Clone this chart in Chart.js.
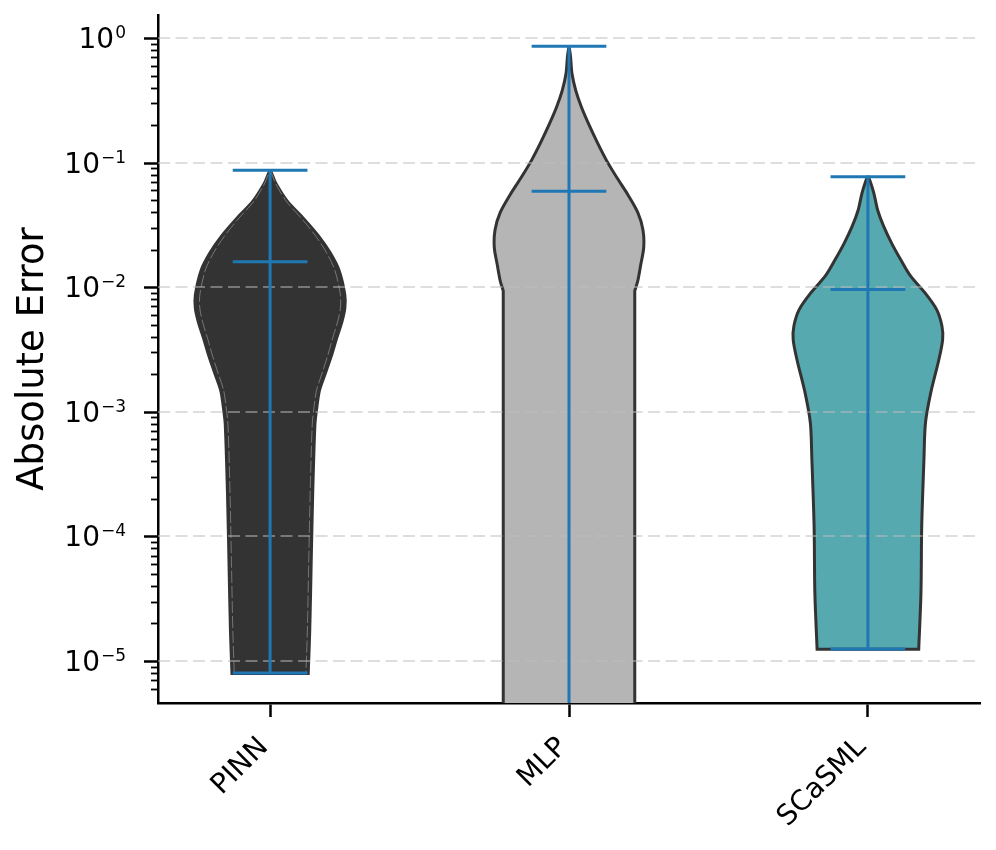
<!DOCTYPE html>
<html>
<head>
<meta charset="utf-8">
<script src="https://cdn.jsdelivr.net/npm/chart.js@4.4.1/dist/chart.umd.min.js"></script>
<style>
  body { margin: 0; background: #fff; }
  #wrap { width: 996px; height: 850px; }
</style>
</head>
<body>
<div id="wrap"><canvas id="violinChart"></canvas></div>
<script>
// categories and summary values
var models = ["PINN", "MLP", "SCaSML"];
var errMin = [8.0e-6, 1.0e-6, 1.25e-5];
var errMedian = [0.0160, 0.059, 0.0096];
var errMax = [0.087, 0.86, 0.077];

// violin outlines: log10(error) levels and relative density (1 = widest)
var pinnLog  = [-1.06, -1.10, -1.17, -1.31, -1.45, -1.59, -1.72, -1.86, -2.06, -2.17, -2.28, -2.41, -2.55, -2.69, -2.83, -2.99, -3.10, -3.66, -4.21, -4.77, -5.10];
var pinnDens = [0.0, 0.03, 0.08, 0.23, 0.45, 0.65, 0.80, 0.92, 1.0, 1.0, 0.96, 0.89, 0.82, 0.74, 0.66, 0.62, 0.60, 0.57, 0.55, 0.53, 0.51];

var mlpLog  = [-0.065, -0.146, -0.285, -0.42, -0.56, -0.70, -0.84, -0.98, -1.12, -1.26, -1.40, -1.54, -1.68, -1.82, -1.95, -2.03, -3.0, -4.0, -5.0, -6.0];
var mlpDens = [0.0, 0.02, 0.04, 0.09, 0.17, 0.27, 0.38, 0.50, 0.64, 0.79, 0.92, 0.99, 1.0, 0.96, 0.92, 0.88, 0.88, 0.88, 0.88, 0.88];

var scLog  = [-1.107, -1.15, -1.246, -1.38, -1.51, -1.65, -1.78, -1.91, -2.05, -2.18, -2.31, -2.42, -2.58, -2.85, -3.09, -3.38, -3.92, -4.45, -4.905];
var scDens = [0.0, 0.03, 0.08, 0.13, 0.21, 0.32, 0.44, 0.57, 0.77, 0.92, 0.99, 1.0, 0.95, 0.84, 0.77, 0.75, 0.72, 0.71, 0.68];

var violinLogs = [pinnLog, mlpLog, scLog];
var violinDens = [pinnDens, mlpDens, scDens];
var sharpCorners = [[20], [15, 19], [18]];   // outline points that are corners, not curves
var fillColors = ["#333333", "#b5b5b5", "#57a9b0"];

var halfWidth = 0.25;   // max half width of a violin in x units
var capHalf = 0.125;    // half width of the blue caps

function outline(c, logs, dens, k, sharp) {
    var right = [], left = [];
    logs.forEach(function (l, i) {
        var y = Math.pow(10, l), w = dens[i] * halfWidth * k;
        var n = sharp.indexOf(i) >= 0 ? 2 : 1;
        for (var j = 0; j < n; j++) {
            right.push({ x: c + w, y: y });
            left.push({ x: c - w, y: y });
        }
    });
    return right.concat(left.reverse());
}

function whiskers(c, lo, med, hi) {
    return [
        { x: c, y: lo }, { x: c, y: hi }, { x: c, y: null },
        { x: c - capHalf, y: hi }, { x: c + capHalf, y: hi }, { x: c, y: null },
        { x: c - capHalf, y: lo }, { x: c + capHalf, y: lo }, { x: c, y: null },
        { x: c - capHalf, y: med }, { x: c + capHalf, y: med }
    ];
}

var datasets = [];
models.forEach(function (m, i) {
    datasets.push({
        label: m,
        data: outline(i, violinLogs[i], violinDens[i], 1, sharpCorners[i]),
        fill: "shape",
        backgroundColor: fillColors[i],
        borderColor: "#333333",
        borderWidth: 3,
        pointRadius: 0,
        tension: 0.3,
        order: 2
    });
});
// faint inner edge seen on the PINN body
datasets.push({
    label: "PINN edge",
    data: outline(0, pinnLog, pinnDens, 0.94, sharpCorners[0]),
    fill: false,
    borderColor: "rgba(255,255,255,0.33)",
    borderWidth: 1,
    borderDash: [12, 3],
    pointRadius: 0,
    tension: 0.3,
    order: 1
});
models.forEach(function (m, i) {
    datasets.push({
        label: m + " stats",
        data: whiskers(i, errMin[i], errMedian[i], errMax[i]),
        borderColor: "#1f77b4",
        borderWidth: 3,
        pointRadius: 0,
        tension: 0,
        spanGaps: false,
        order: 0
    });
});

function isDecade(v) {
    var l = Math.log10(v);
    return Math.abs(l - Math.round(l)) < 1e-9;
}

function drawGrid(chart) {
    var ctx = chart.ctx, y = chart.scales.y, area = chart.chartArea;
    ctx.save();
    ctx.strokeStyle = "rgba(190,190,190,0.5)";
    ctx.lineWidth = 2;
    ctx.setLineDash([12, 5.5]);
    y.ticks.forEach(function (t) {
        if (!isDecade(t.value)) return;
        var py = Math.round(y.getPixelForValue(t.value));
        ctx.beginPath();
        ctx.moveTo(area.left, py);
        ctx.lineTo(area.right, py);
        ctx.stroke();
    });
    ctx.restore();
}

// y axis tick marks (long majors, short minors) and 10^n labels with a real superscript
function drawYAxis(chart) {
    var ctx = chart.ctx, y = chart.scales.y, x0 = chart.chartArea.left;
    var xr = x0 - 32;
    ctx.save();
    ctx.strokeStyle = "#000";
    ctx.fillStyle = "#000";
    y.ticks.forEach(function (t) {
        var v = t.value;
        var e = Math.floor(Math.log10(v) + 1e-9);
        var s = v / Math.pow(10, e);
        if (Math.abs(s - Math.round(s)) > 1e-6) return;
        var major = Math.round(s) === 1;
        var py = y.getPixelForValue(v);
        ctx.lineWidth = major ? 2.5 : 1.8;
        ctx.beginPath();
        ctx.moveTo(x0 - (major ? 14 : 7), Math.round(py) + 0.5);
        ctx.lineTo(x0, Math.round(py) + 0.5);
        ctx.stroke();
        if (!major) return;
        var expText = String(e).replace("-", "\u2212");
        ctx.textAlign = "right";
        ctx.textBaseline = "alphabetic";
        ctx.font = "17px 'DejaVu Sans'";
        var ew = ctx.measureText(expText).width;
        ctx.fillText(expText, xr, py);
        ctx.font = "28px 'DejaVu Sans'";
        ctx.fillText("10", xr - ew - 1, py + 10);
    });
    ctx.restore();
}

var decorPlugin = {
    id: "logDecor",
    beforeDatasetsDraw: function (chart) { chart.$gridDone = false; },
    beforeDatasetDraw: function (chart, args) {
        if (!chart.$gridDone && chart.data.datasets[args.index].order === 0) {
            drawGrid(chart);
            chart.$gridDone = true;
        }
    },
    afterDatasetsDraw: function (chart) {
        if (!chart.$gridDone) { drawGrid(chart); chart.$gridDone = true; }
        drawYAxis(chart);
    }
};

Chart.defaults.font.family = "'DejaVu Sans', sans-serif";
Chart.defaults.color = "#000";

new Chart("violinChart", {
    type: "line",
    data: { datasets: datasets },
    plugins: [decorPlugin],
    options: {
        responsive: true,
        maintainAspectRatio: false,
        animation: false,
        layout: { padding: { left: 7, right: 16, top: 15, bottom: 0 } },
        plugins: {
            legend: { display: false },
            tooltip: { enabled: false }
        },
        scales: {
            x: {
                type: "linear",
                min: -0.375,
                max: 2.375,
                afterBuildTicks: function (scale) {
                    scale.ticks = models.map(function (m, i) { return { value: i }; });
                },
                afterFit: function (scale) {
                    scale.height = 147;
                    scale.paddingLeft = 0;
                    scale.paddingRight = 0;
                },
                ticks: {
                    autoSkip: false,
                    minRotation: 45,
                    maxRotation: 45,
                    padding: 14,
                    labelOffset: -6,
                    font: { size: 28 },
                    callback: function (v) { return models[v]; }
                },
                grid: {
                    drawOnChartArea: false,
                    drawTicks: true,
                    tickLength: 14,
                    tickWidth: 2.5,
                    tickColor: "#000"
                },
                border: { display: true, color: "#000", width: 2.5 }
            },
            y: {
                type: "logarithmic",
                min: 4.6e-6,
                max: 1.53,
                afterFit: function (scale) {
                    scale.width = 151;
                    scale.paddingTop = 0;
                    scale.paddingBottom = 0;
                },
                ticks: { display: false, autoSkip: false },
                grid: { display: false },
                border: { display: true, color: "#000", width: 2.5 },
                title: {
                    display: true,
                    text: "Absolute Error",
                    font: { size: 37 },
                    padding: { top: 4, bottom: 4 }
                }
            }
        }
    }
});
</script>
</body>
</html>
